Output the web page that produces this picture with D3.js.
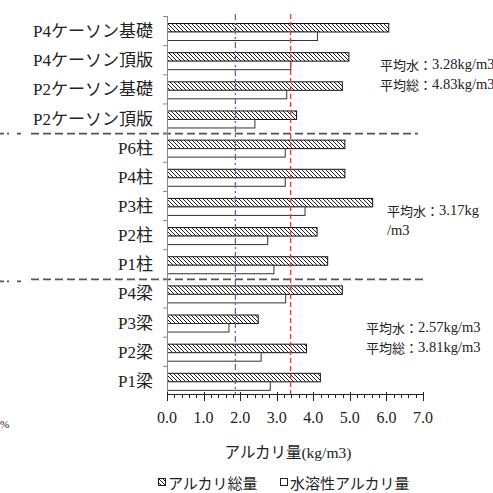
<!DOCTYPE html>
<html>
<head>
<meta charset="utf-8">
<script src="https://cdn.jsdelivr.net/npm/d3@7"></script>
<style>
  html, body { margin: 0; padding: 0; background: #fff; }
  svg { display: block; }
  text { fill: #222; }
</style>
</head>
<body>
<svg id="chart" width="493" height="493"></svg>
<script>
// Members, top to bottom
const categories = [
  "P4ケーソン基礎", "P4ケーソン頂版", "P2ケーソン基礎", "P2ケーソン頂版",
  "P6柱", "P4柱", "P3柱", "P2柱", "P1柱",
  "P4梁", "P3梁", "P2梁", "P1梁"
];
// Total alkali content (kg/m3)
const totalAlkali = [6.05, 4.96, 4.78, 3.53, 4.85, 4.85, 5.61, 4.09, 4.38, 4.78, 2.48, 3.80, 4.18];
// Water-soluble alkali content (kg/m3)
const waterAlkali = [4.10, 3.37, 3.26, 2.39, 3.22, 3.22, 3.76, 2.74, 2.91, 3.23, 1.68, 2.56, 2.81];
const seriesNames = ["アルカリ総量", "水溶性アルカリ量"];
const xTicks = [0, 1, 2, 3, 4, 5, 6, 7];
// Reference levels (kg/m3)
const refBlue = 1.87;
const refRed = 3.38;
// Group boundaries (index of first member of the next group)
const groupBreaks = [4, 9];
// Group averages
const groupNotes = [
  { after: 1, lines: [["平均水：", "3.28kg/m3"], ["平均総：", "4.83kg/m3"]], dx: 380 },
  { after: 6, lines: [["平均水：", "3.17kg"], ["", "/m3"]], dx: 387 },
  { after: 10, lines: [["平均水：", "2.57kg/m3"], ["平均総：", "3.81kg/m3"]], dx: 366 }
];

const serif = "'Liberation Serif', 'Noto Sans CJK JP', serif";
const sans = "'Noto Sans CJK JP', sans-serif";

const svg = d3.select("#chart");
const x0 = 167, x1 = 423, yTop = 16, yBot = 395;

const x = d3.scaleLinear().domain([0, 7]).range([x0, x1]);
const y = d3.scaleBand().domain(categories).range([yTop, yBot]).padding(0);
const bw = y.bandwidth();
const ySub = d3.scaleBand().domain(["total", "water"]).range([7.5, 24.5]).padding(0);

// hatch pattern for total alkali
const defs = svg.append("defs");
const pat = defs.append("pattern")
  .attr("id", "hatch").attr("patternUnits", "userSpaceOnUse")
  .attr("width", 4).attr("height", 4);
pat.append("rect").attr("width", 4).attr("height", 4).attr("fill", "#fff");
pat.append("path")
  .attr("d", "M0,0 L4,4 M-1,3 L1,5 M3,-1 L5,1")
  .attr("stroke", "#222").attr("stroke-width", 1);

// group separators
groupBreaks.forEach((b, i) => {
  const yy = y(categories[b]) + 1;
  svg.append("line")
    .attr("x1", 0).attr("x2", 24).attr("y1", yy + (i === 1 ? 2 : 0)).attr("y2", yy + (i === 1 ? 2 : 0))
    .attr("stroke", "#555").attr("stroke-width", 1.6)
    .attr("stroke-dasharray", "4,3,2,8");
  svg.append("line")
    .attr("x1", 31).attr("x2", i === 0 ? 418 : 423).attr("y1", yy).attr("y2", yy)
    .attr("stroke", "#555").attr("stroke-width", 1.6)
    .attr("stroke-dasharray", "8,4");
});

// bars
const rows = categories.map((c, i) => ({ c, total: totalAlkali[i], water: waterAlkali[i] }));
const g = svg.append("g");
g.selectAll("rect.total").data(rows).join("rect")
  .attr("class", "total")
  .attr("x", x(0) + 0.5)
  .attr("y", d => y(d.c) + ySub("total"))
  .attr("width", d => x(d.total) - x(0))
  .attr("height", ySub.bandwidth())
  .attr("fill", "url(#hatch)")
  .attr("stroke", "#111").attr("stroke-width", 1);
g.selectAll("rect.water").data(rows).join("rect")
  .attr("class", "water")
  .attr("x", x(0) + 0.5)
  .attr("y", d => y(d.c) + ySub("water"))
  .attr("width", d => x(d.water) - x(0))
  .attr("height", ySub.bandwidth())
  .attr("fill", "#fff")
  .attr("stroke", "#333").attr("stroke-width", 1);

// reference lines
svg.append("line")
  .attr("x1", x(refBlue)).attr("x2", x(refBlue)).attr("y1", 14).attr("y2", yBot)
  .attr("stroke", "#4f6f9f").attr("stroke-width", 1.3)
  .attr("stroke-dasharray", "6,3,2,3");
svg.append("line")
  .attr("x1", x(refRed)).attr("x2", x(refRed)).attr("y1", 14).attr("y2", yBot)
  .attr("stroke", "#ee3b3b").attr("stroke-width", 1.4)
  .attr("stroke-dasharray", "5,3");

// y axis
const yAxis = svg.append("g");
yAxis.append("line")
  .attr("x1", x0 + 0.5).attr("x2", x0 + 0.5).attr("y1", yTop).attr("y2", yBot)
  .attr("stroke", "#888").attr("stroke-width", 1);
yAxis.selectAll("line.tk").data(categories).join("line")
  .attr("class", "tk")
  .attr("x1", x0 - 4).attr("x2", x0)
  .attr("y1", d => y(d) + 0.5).attr("y2", d => y(d) + 0.5)
  .attr("stroke", "#888");
yAxis.selectAll("text").data(categories).join("text")
  .attr("x", x0 - 14)
  .attr("y", d => y(d) + bw / 2 + 1)
  .attr("text-anchor", "end")
  .attr("dominant-baseline", "central")
  .style("font-family", serif)
  .style("font-size", "17px")
  .text(d => d);

// x axis
const xAxis = svg.append("g").attr("transform", `translate(0,${yBot - 1})`);
xAxis.append("line")
  .attr("x1", x0).attr("x2", x1).attr("y1", 0.5).attr("y2", 0.5)
  .attr("stroke", "#222");
const minor = d3.range(0, 7.001, 0.2).filter(v => Math.abs(v - Math.round(v)) > 1e-6);
xAxis.selectAll("line.minor").data(minor).join("line")
  .attr("class", "minor")
  .attr("x1", d => Math.round(x(d)) + 0.5).attr("x2", d => Math.round(x(d)) + 0.5)
  .attr("y1", 0).attr("y2", 4)
  .attr("stroke", "#222");
xAxis.selectAll("line.major").data(xTicks).join("line")
  .attr("class", "major")
  .attr("x1", d => Math.round(x(d)) + 0.5).attr("x2", d => Math.round(x(d)) + 0.5)
  .attr("y1", -2).attr("y2", 7)
  .attr("stroke", "#222");
xAxis.selectAll("text").data(xTicks).join("text")
  .attr("x", d => x(d))
  .attr("y", 23)
  .attr("text-anchor", "middle")
  .attr("dominant-baseline", "central")
  .style("font-family", serif)
  .style("font-size", "16px")
  .text(d => d.toFixed(1));

// axis title
svg.append("text")
  .attr("x", 288).attr("y", 452)
  .attr("text-anchor", "middle")
  .attr("dominant-baseline", "central")
  .style("font-family", serif)
  .style("font-size", "15.5px")
  .text("アルカリ量(kg/m3)");

// percent sign at the left margin
svg.append("text")
  .attr("x", 0).attr("y", 424)
  .attr("dominant-baseline", "central")
  .style("font-family", serif)
  .style("font-size", "11px")
  .text("%");

// group average notes
groupNotes.forEach(n => {
  const baseY = y(categories[n.after]) + bw - 2;
  n.lines.forEach((ln, k) => {
    const t = svg.append("text")
      .attr("x", n.dx).attr("y", baseY + k * 20 - 8)
      .attr("dominant-baseline", "central");
    t.append("tspan").style("font-family", sans).style("font-size", "13px").text(ln[0]);
    t.append("tspan").style("font-family", serif).style("font-size", "14.5px").text(ln[1]);
  });
});

// legend
const legend = svg.append("g");
const legendItems = [
  { name: seriesNames[0], fill: "url(#hatch)", bx: 158 },
  { name: seriesNames[1], fill: "#fff", bx: 280 }
];
legendItems.forEach(it => {
  legend.append("rect")
    .attr("x", it.bx + 0.5).attr("y", 478.5).attr("width", 7).attr("height", 7)
    .attr("fill", it.fill).attr("stroke", "#222");
  legend.append("text")
    .attr("x", it.bx + 10).attr("y", 482)
    .attr("dominant-baseline", "central")
    .style("font-family", sans)
    .style("font-size", "15px")
    .text(it.name);
});
</script>
</body>
</html>
